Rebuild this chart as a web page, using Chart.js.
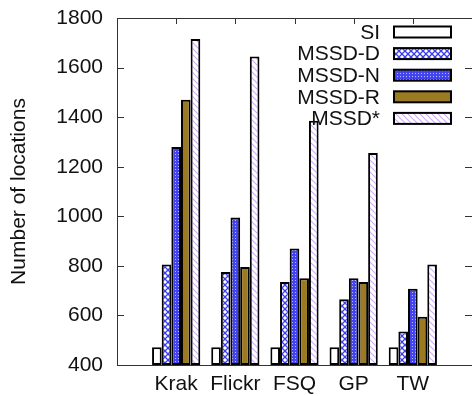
<!DOCTYPE html>
<html>
<head>
<meta charset="utf-8">
<script src="https://cdn.jsdelivr.net/npm/chart.js@4"></script>
<style>
  html, body { margin: 0; padding: 0; background: #fff; }
  #wrap { width: 472px; height: 396px; }
</style>
</head>
<body>
<div id="wrap"><canvas id="c" width="472" height="396"></canvas></div>
<script>
const categories = ['Krak', 'Flickr', 'FSQ', 'GP', 'TW'];
const seriesNames = ['SI', 'MSSD-D', 'MSSD-N', 'MSSD-R', 'MSSD*'];
const siValues = [472, 472, 472, 472, 472];
const mssdDValues = [805, 775, 735, 665, 535];
const mssdNValues = [1280, 995, 870, 750, 708];
const mssdRValues = [1470, 795, 750, 735, 595];
const mssdStarValues = [1715, 1645, 1385, 1255, 805];
const yTicks = [400, 600, 800, 1000, 1200, 1400, 1600, 1800];

const FONT = "'Liberation Sans', Arial, sans-serif";

// small tiles for the gnuplot-like fill patterns
function makeTile(size, draw) {
    const c = document.createElement('canvas');
    c.width = size; c.height = size;
    const g = c.getContext('2d');
    draw(g, size);
    return document.getElementById('c').getContext('2d').createPattern(c, 'repeat');
}

const crossPattern = makeTile(6, (g, s) => {
    g.fillStyle = '#fff';
    g.fillRect(0, 0, s, s);
    g.strokeStyle = '#3b3bf2';
    g.lineWidth = 1.3;
    g.beginPath();
    g.moveTo(0, 0); g.lineTo(s, s);
    g.moveTo(s, 0); g.lineTo(0, s);
    g.stroke();
});

const meshPattern = makeTile(3, (g, s) => {
    g.fillStyle = '#4343f0';
    g.fillRect(0, 0, s, s);
    g.fillStyle = '#b8b8ff';
    g.fillRect(1, 1, 1, 1);
});

const stripePattern = makeTile(6, (g, s) => {
    g.fillStyle = '#fff';
    g.fillRect(0, 0, s, s);
    g.strokeStyle = '#cfaef7';
    g.lineWidth = 1.2;
    g.beginPath();
    g.moveTo(-1, -1); g.lineTo(s + 1, s + 1);
    g.moveTo(-1, s - 1); g.lineTo(1, s + 1);
    g.moveTo(s - 1, -1); g.lineTo(s + 1, 1);
    g.stroke();
});

const fills = ['#ffffff', crossPattern, meshPattern, '#9b7a22', stripePattern];
const values = [siValues, mssdDValues, mssdNValues, mssdRValues, mssdStarValues];

// empty slot on each side of the groups, like the original x range
const labels = [''].concat(categories, ['']);
const pad = arr => [null].concat(arr, [null]);

// frame, inward tics and the legend drawn gnuplot style
const framePlugin = {
    id: 'frame',
    afterDatasetsDraw(chart) {
        const ctx = chart.ctx;
        const a = chart.chartArea;
        const ys = chart.scales.y, xs = chart.scales.x;
        ctx.save();
        ctx.strokeStyle = '#333';
        ctx.lineWidth = 1;
        ctx.beginPath();
        ctx.rect(a.left + 0.5, a.top + 0.5, a.right - a.left, a.bottom - a.top);
        yTicks.forEach(v => {
            const y = Math.round(ys.getPixelForValue(v)) + 0.5;
            ctx.moveTo(a.left, y); ctx.lineTo(a.left + 7, y);
            ctx.moveTo(a.right, y); ctx.lineTo(a.right - 7, y);
        });
        categories.forEach((c, i) => {
            const x = Math.round(xs.getPixelForValue(i + 1)) + 0.5;
            ctx.moveTo(x, a.top); ctx.lineTo(x, a.top + 6);
        });
        ctx.stroke();

        // legend
        ctx.font = '21px ' + FONT;
        ctx.textAlign = 'right';
        ctx.textBaseline = 'middle';
        chart.data.datasets.forEach((ds, i) => {
            const cy = 32 + i * 21.6;
            ctx.fillStyle = '#111';
            ctx.fillText(ds.label, 380, cy + 1);
            ctx.fillStyle = ds.backgroundColor;
            ctx.fillRect(394, cy - 5.5, 57, 11);
            ctx.strokeStyle = '#000';
            ctx.lineWidth = 2;
            ctx.strokeRect(394, cy - 5.5, 57, 11);
        });
        ctx.restore();
    }
};

new Chart(document.getElementById('c'), {
    type: 'bar',
    data: {
        labels: labels,
        datasets: seriesNames.map((name, i) => ({
            label: name,
            data: pad(values[i]),
            backgroundColor: fills[i],
            borderColor: '#000',
            borderWidth: 2,
            borderSkipped: false,
            base: 400,
            categoryPercentage: 0.815,
            barPercentage: 1.0
        }))
    },
    options: {
        responsive: false,
        animation: false,
        layout: { padding: { top: 18, right: -3, left: 0, bottom: 0 } },
        plugins: {
            legend: { display: false },
            tooltip: { enabled: false }
        },
        scales: {
            x: {
                offset: false,
                grid: { display: false, drawTicks: false },
                border: { display: false },
                ticks: {
                    padding: 7,
                    color: '#111',
                    font: { family: FONT, size: 21 },
                    maxRotation: 0,
                    autoSkip: false
                },
                afterFit: s => { s.height = 31; s.paddingLeft = 0; s.paddingRight = 0; }
            },
            y: {
                min: 400,
                max: 1800,
                grid: { display: false, drawTicks: false },
                border: { display: false },
                ticks: {
                    stepSize: 200,
                    padding: 14,
                    color: '#111',
                    font: { family: FONT, size: 21 },
                    callback: v => String(v)
                },
                title: {
                    display: true,
                    text: 'Number of locations',
                    color: '#111',
                    font: { family: FONT, size: 21 },
                    padding: { top: 7, bottom: 0 }
                },
                afterFit: s => { s.width = 117; s.paddingTop = 0; s.paddingBottom = 0; }
            }
        }
    },
    plugins: [framePlugin]
});
</script>
</body>
</html>
